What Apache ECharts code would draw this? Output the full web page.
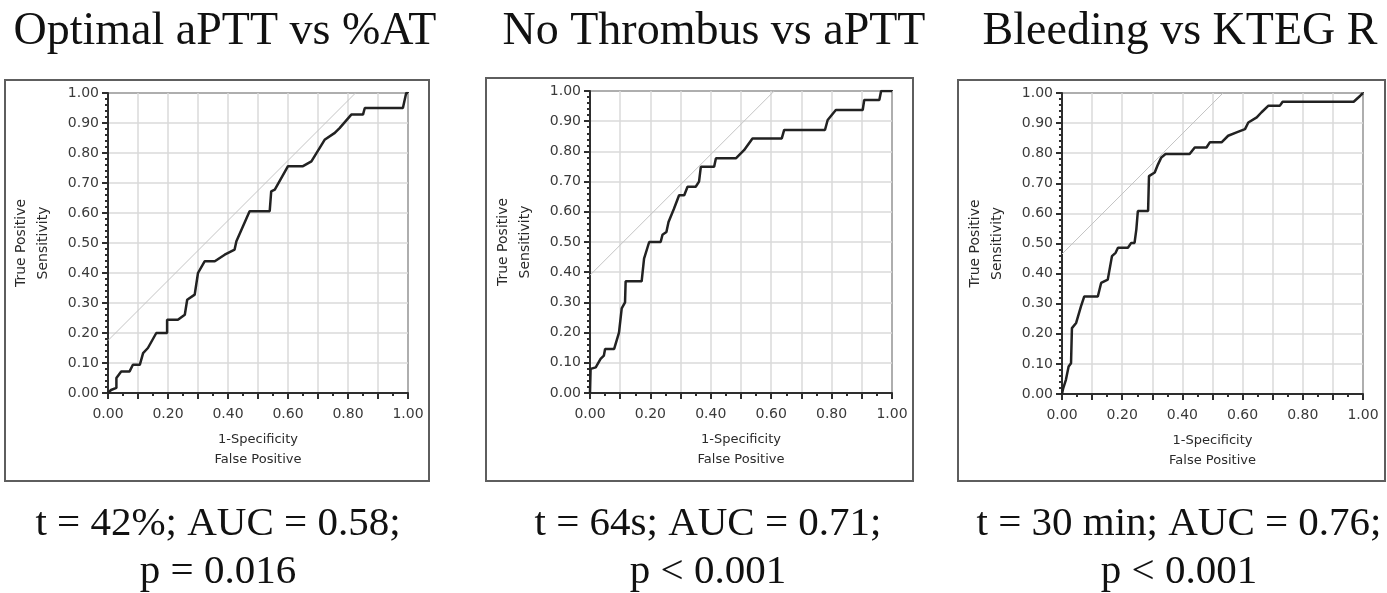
<!DOCTYPE html>
<html>
<head>
<meta charset="utf-8">
<script src="https://cdn.jsdelivr.net/npm/echarts@6/dist/echarts.min.js"></script>
<style>
  html, body { margin: 0; padding: 0; background: #ffffff; }
  #chart { width: 1387px; height: 593px; }
</style>
</head>
<body>
<div id="chart"></div>
<script>
// ---------------- DATA ----------------
const panelTitles = ['Optimal aPTT vs %AT', 'No Thrombus vs aPTT', 'Bleeding vs KTEG R'];
const statsLine1 = ['t = 42%; AUC = 0.58;', 't = 64s; AUC = 0.71;', 't = 30 min; AUC = 0.76;'];
const statsLine2 = ['p = 0.016', 'p < 0.001', 'p < 0.001'];
const xAxisName = '1-Specificity\nFalse Positive';
const yAxisName = 'True Positive\nSensitivity';

// ROC curves: [1-Specificity, Sensitivity]
const rocAT = [[0,0],[0.01,0.01],[0.028,0.017],[0.028,0.05],[0.044,0.072],[0.072,0.072],[0.083,0.094],[0.106,0.094],[0.117,0.133],[0.133,0.15],[0.161,0.2],[0.197,0.2],[0.197,0.244],[0.233,0.244],[0.256,0.261],[0.264,0.311],[0.289,0.328],[0.30,0.40],[0.322,0.439],[0.356,0.439],[0.389,0.461],[0.422,0.478],[0.428,0.506],[0.472,0.606],[0.539,0.606],[0.544,0.672],[0.556,0.678],[0.6,0.756],[0.65,0.756],[0.678,0.772],[0.722,0.844],[0.756,0.867],[0.772,0.883],[0.811,0.928],[0.85,0.928],[0.856,0.95],[0.983,0.95],[0.994,1.0],[1,1]];
const rocAPTT = [[0,0],[0.002,0.08],[0.019,0.085],[0.035,0.113],[0.046,0.124],[0.05,0.146],[0.08,0.146],[0.096,0.2],[0.105,0.28],[0.116,0.3],[0.118,0.37],[0.171,0.37],[0.179,0.445],[0.196,0.5],[0.234,0.5],[0.24,0.524],[0.253,0.533],[0.26,0.566],[0.278,0.61],[0.295,0.655],[0.312,0.655],[0.323,0.683],[0.35,0.683],[0.361,0.70],[0.367,0.749],[0.411,0.749],[0.417,0.777],[0.483,0.777],[0.51,0.804],[0.538,0.843],[0.635,0.843],[0.643,0.871],[0.778,0.871],[0.787,0.904],[0.814,0.937],[0.903,0.937],[0.908,0.97],[0.958,0.97],[0.964,1.0],[1,1]];
const rocKTEG = [[0,0],[0.004,0.019],[0.013,0.047],[0.022,0.091],[0.03,0.102],[0.033,0.219],[0.047,0.236],[0.063,0.291],[0.074,0.324],[0.119,0.324],[0.13,0.369],[0.152,0.38],[0.166,0.458],[0.178,0.469],[0.186,0.486],[0.219,0.486],[0.23,0.502],[0.241,0.502],[0.247,0.547],[0.252,0.608],[0.286,0.608],[0.289,0.724],[0.308,0.736],[0.319,0.763],[0.33,0.786],[0.344,0.797],[0.424,0.797],[0.441,0.819],[0.48,0.819],[0.491,0.836],[0.53,0.836],[0.552,0.858],[0.58,0.869],[0.608,0.88],[0.619,0.902],[0.647,0.919],[0.663,0.936],[0.686,0.958],[0.724,0.958],[0.733,0.971],[0.969,0.971],[0.991,0.991],[1,1]];
// Tangent (slope 1) reference line intercepts at 1-Specificity = 0
const tangentIntercepts = [0.175, 0.39, 0.465];

// ---------------- LAYOUT ----------------
const rocSets = [rocAT, rocAPTT, rocKTEG];
const grids = [
  { left: 108, top: 93, width: 300, height: 300 },
  { left: 590, top: 91, width: 302, height: 302 },
  { left: 1062, top: 93, width: 301, height: 301 }
];
const boxes = [
  { x: 5, y: 80, width: 424, height: 401 },
  { x: 486, y: 78, width: 427, height: 403 },
  { x: 958, y: 80, width: 427, height: 401 }
];
const titleCenters = [225, 714, 1180];
const statCenters = [218, 708, 1179];

const SERIF = '"Liberation Serif", "Times New Roman", serif';
const SANS = '"DejaVu Sans", "Liberation Sans", Arial, sans-serif';
const AX = '#2e2e2e';

const chart = echarts.init(document.getElementById('chart'));

const xAxes = [], yAxes = [], series = [], graphics = [];
grids.forEach((g, i) => {
  xAxes.push({
    type: 'value', gridIndex: i, min: 0, max: 1, interval: 0.1,
    name: xAxisName, nameLocation: 'middle', nameGap: 37,
    nameTextStyle: { fontFamily: SANS, fontSize: 13, color: '#2a2a2a', lineHeight: 20 },
    axisLine: { show: true, onZero: false, lineStyle: { color: AX, width: 2 } },
    axisTick: { show: true, inside: false, length: 6, lineStyle: { color: AX, width: 2 } },
    minorTick: { show: true, splitNumber: 2, length: 3, lineStyle: { color: AX, width: 2 } },
    splitLine: { show: true, lineStyle: { color: '#dadada', width: 1.5 } },
    axisLabel: {
      margin: 14, fontFamily: SANS, fontSize: 14, color: '#3a3a3a',
      formatter: v => (Math.round(v * 10) % 2 === 0 ? v.toFixed(2) : '')
    }
  });
  yAxes.push({
    type: 'value', gridIndex: i, min: 0, max: 1, interval: 0.1,
    axisLine: { show: true, onZero: false, lineStyle: { color: AX, width: 2 } },
    axisTick: { show: true, inside: false, length: 6, lineStyle: { color: AX, width: 2 } },
    minorTick: { show: true, splitNumber: 5, length: 3, lineStyle: { color: AX, width: 2 } },
    splitLine: { show: true, lineStyle: { color: '#dadada', width: 1.5 } },
    axisLabel: {
      margin: 9, fontFamily: SANS, fontSize: 14, color: '#3a3a3a',
      formatter: v => v.toFixed(2)
    }
  });
  const b = tangentIntercepts[i];
  series.push({
    type: 'line', xAxisIndex: i, yAxisIndex: i, silent: true, showSymbol: false,
    data: [[0, b], [1 - b, 1]],
    lineStyle: { color: '#c4c4c4', width: 1 }, z: 2
  });
  series.push({
    type: 'line', xAxisIndex: i, yAxisIndex: i, silent: true, showSymbol: false,
    data: rocSets[i],
    lineStyle: { color: '#222222', width: 2.5 }, z: 3
  });
  const bx = boxes[i];
  graphics.push({
    type: 'rect', shape: { x: bx.x, y: bx.y, width: bx.width, height: bx.height },
    style: { fill: 'none', stroke: '#5e5e5e', lineWidth: 2 }, silent: true, z: 0
  });
  graphics.push({
    type: 'text', x: titleCenters[i], y: 32,
    style: { text: panelTitles[i], font: '46px ' + SERIF, fill: '#111', textAlign: 'center', textVerticalAlign: 'middle' }
  });
  graphics.push({
    type: 'text', x: statCenters[i], y: 524,
    style: { text: statsLine1[i], font: '41px ' + SERIF, fill: '#111', textAlign: 'center', textVerticalAlign: 'middle' }
  });
  graphics.push({
    type: 'text', x: statCenters[i], y: 572,
    style: { text: statsLine2[i], font: '41px ' + SERIF, fill: '#111', textAlign: 'center', textVerticalAlign: 'middle' }
  });
  graphics.push({
    type: 'text', x: g.left - 76, y: g.top + g.height / 2, rotation: Math.PI / 2,
    style: { text: yAxisName, font: '14px ' + SANS, fill: '#2a2a2a', textAlign: 'center', textVerticalAlign: 'middle', lineHeight: 22 }
  });
});

chart.setOption({
  animation: false,
  backgroundColor: '#ffffff',
  grid: grids.map(g => Object.assign({ show: true, borderColor: AX, borderWidth: 2, backgroundColor: 'transparent' }, g)),
  xAxis: xAxes,
  yAxis: yAxes,
  series: series,
  graphic: { elements: graphics }
});
</script>
</body>
</html>
